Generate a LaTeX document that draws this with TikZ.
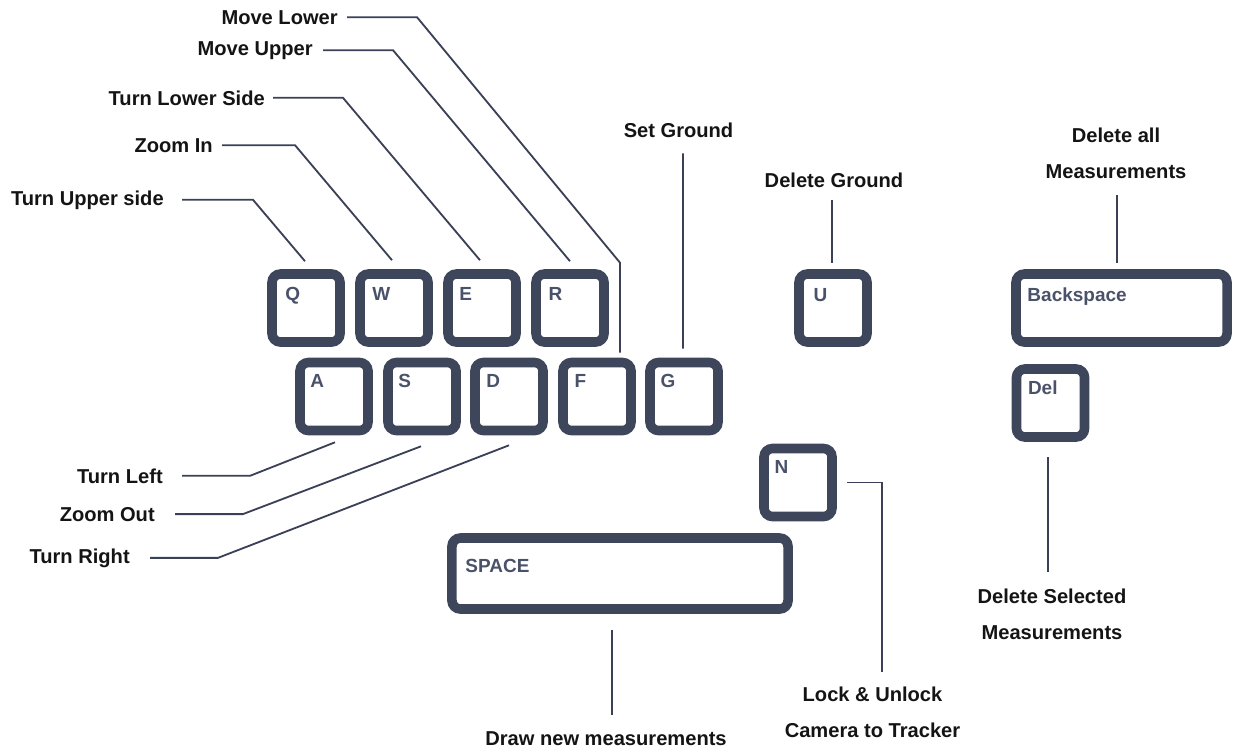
\documentclass[tikz,border=0pt]{standalone}
\usepackage{fontspec}
\setmainfont{Liberation Sans}
\usetikzlibrary{calc}
\definecolor{keyline}{RGB}{62,70,92}
\definecolor{keyletter}{RGB}{74,82,106}
\definecolor{leadline}{RGB}{58,64,86}
\definecolor{labeltext}{RGB}{20,20,20}
\tikzset{
  keycap/.style={draw=keyline, line width=6.8pt, rounded corners=6pt,
    minimum width=1.7cm, minimum height=1.7cm, inner sep=0pt},
  keyname/.style={anchor=base west, inner sep=0pt, text=keyletter,
    font=\bfseries\fontsize{13.5}{16}\selectfont},
  lbl/.style={inner sep=0pt, text=labeltext, align=center,
    font=\bfseries\fontsize{14.3}{25.5}\selectfont},
  lead/.style={draw=leadline, line width=1.3pt},
}
\begin{document}
\begin{tikzpicture}[x=0.025cm, y=-0.025cm]
\useasboundingbox (0,0) rectangle (1233,750);
% upper row
\node[keycap] (q) at (306,308) {};
\node[keycap] (w) at (394,308) {};
\node[keycap] (e) at (482,308) {};
\node[keycap] (r) at (570,308) {};
\node[keycap] (u) at (833,308) {};
\node[keycap, minimum width=5.275cm] (bksp) at (1121.5,308) {};
% lower row
\node[keycap] (a) at (334,396.5) {};
\node[keycap] (s) at (422,396.5) {};
\node[keycap] (d) at (509,396.5) {};
\node[keycap] (f) at (597,396.5) {};
\node[keycap] (g) at (684,396.5) {};
\node[keycap] (del) at (1050.5,403) {};
\node[keycap] (n) at (798,482.5) {};
\node[keycap, minimum width=8.4cm, minimum height=1.775cm] (space) at (620,573.5) {};
% key letters
\node[keyname] (q-t) at ([shift={(18,31)}]q.north west) {Q};
\node[keyname] (w-t) at ([shift={(17,31)}]w.north west) {W};
\node[keyname] (e-t) at ([shift={(16,31)}]e.north west) {E};
\node[keyname] (r-t) at ([shift={(17,31)}]r.north west) {R};
\node[keyname] (u-t) at ([shift={(19,32)}]u.north west) {U};
\node[keyname] (bksp-t) at ([shift={(16,32)}]bksp.north west) {Backspace};
\node[keyname] (a-t) at ([shift={(15,30)}]a.north west) {A};
\node[keyname] (s-t) at ([shift={(15,30)}]s.north west) {S};
\node[keyname] (d-t) at ([shift={(16,30)}]d.north west) {D};
\node[keyname] (f-t) at ([shift={(16,30)}]f.north west) {F};
\node[keyname] (g-t) at ([shift={(15,30)}]g.north west) {G};
\node[keyname] (del-t) at ([shift={(16,30)}]del.north west) {Del};
\node[keyname] (n-t) at ([shift={(15,30)}]n.north west) {N};
\node[keyname] (space-t) at ([shift={(18,39)}]space.north west) {SPACE};
% labels
\node[lbl, anchor=base east] (mlow) at (338,24) {Move Lower};
\node[lbl, anchor=base east] (mup) at (313,55) {Move Upper};
\node[lbl, anchor=base east] (tlow) at (265,105) {Turn Lower Side};
\node[lbl, anchor=base east] (zin) at (213,152) {Zoom In};
\node[lbl, anchor=base east] (tup) at (164,205) {Turn Upper side};
\node[lbl, anchor=base east] (tleft) at (163,483) {Turn Left};
\node[lbl, anchor=base east] (zout) at (155,521) {Zoom Out};
\node[lbl, anchor=base east] (tright) at (130,563) {Turn Right};
\node[lbl, anchor=base] (setg) at (678.5,137) {Set Ground};
\node[lbl, anchor=base] (delg) at (834,187) {Delete Ground};
\node[lbl, anchor=south] (dall) at (1116,179) {Delete all\\Measurements};
\node[lbl, anchor=south] (dsel) at (1052,640) {Delete Selected\\Measurements};
\node[lbl, anchor=south] (lock) at (872.5,738) {Lock \& Unlock\\Camera to Tracker};
\node[lbl, anchor=base] (dnew) at (606,745) {Draw new measurements};
% leaders
\draw[lead] ([shift={(9,0)}]mlow.east) -- ++(70,0) -- ([shift={(23,-95)}]f.north) -- ([shift={(23,-5)}]f.north);
\draw[lead] ([shift={(10,0)}]mup.east) -- ++(70,0) -- ([shift={(0,-8)}]r.north);
\draw[lead] ([shift={(8,0)}]tlow.east) -- ++(70,0) -- ([shift={(-2,-9)}]e.north);
\draw[lead] ([shift={(9,0)}]zin.east) -- ++(73,0) -- ([shift={(-2,-9)}]w.north);
\draw[lead] ([shift={(18,0)}]tup.east) -- ++(71,0) -- ([shift={(-1,-8)}]q.north);
\draw[lead] ([shift={(19,0)}]tleft.east) -- ++(68,0) -- ([shift={(1,7)}]a.south);
\draw[lead] ([shift={(20,0)}]zout.east) -- ++(68,0) -- ([shift={(-1,11)}]s.south);
\draw[lead] ([shift={(20,0)}]tright.east) -- ++(68,0) -- ([shift={(0,10)}]d.south);
\draw[lead] ([shift={(4.5,16)}]setg.south) -- ([shift={(-1,-9)}]g.north);
\draw[lead] ([shift={(-2,13)}]delg.south) -- ([shift={(-1,-6)}]u.north);
\draw[lead] ([shift={(1,16)}]dall.south) -- ([shift={(-4.5,-6)}]bksp.north);
\draw[lead] ([shift={(-2.5,15)}]del.south) -- ($(dsel.north)+(-4,-17)$);
\draw[lead] ([shift={(10,0)}]n.east) -| ($(lock.north)+(9.5,-15)$);
\draw[lead] ([shift={(-8,16)}]space.south) -- ($(dnew.north)+(6,-16)$);
\end{tikzpicture}
\end{document}
